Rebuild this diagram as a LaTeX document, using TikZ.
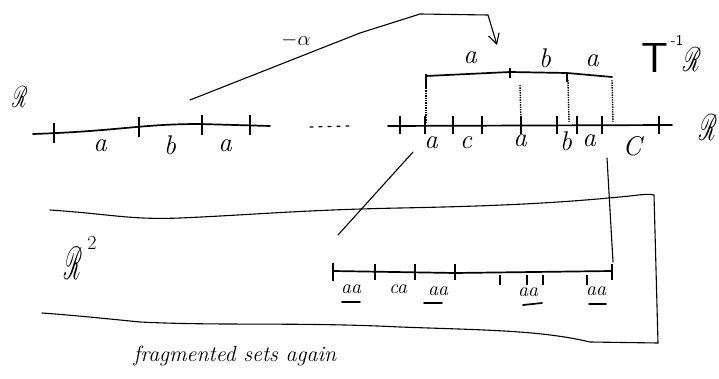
\documentclass[tikz,border=0pt]{standalone}
\usepackage{graphicx}
\usepackage{mathrsfs}
\usetikzlibrary{arrows.meta}
\newcommand{\bigR}[2]{\scalebox{#1}[#2]{$\mathscr{R}$}}
\begin{document}
\begin{tikzpicture}[x=1pt,y=-1pt,
  ln/.style={line width=1.7pt,line cap=round},
  thin/.style={line width=1.1pt,line cap=round},
  tk/.style={line width=1.6pt},
  dt/.style={line width=1.4pt,densely dotted},
  lab/.style={font=\fontsize{27}{27}\selectfont\itshape,inner sep=0pt},
  slab/.style={font=\fontsize{20}{20}\selectfont\itshape,inner sep=0pt},
  rr/.style={inner sep=0pt}]
\useasboundingbox (0,0) rectangle (719,379);
% left R line
\node[rr] (R1) at (20,97) {\bigR{1.7}{3.0}};
\coordinate (L1) at (33,134);
\coordinate (L2) at (270,126);
\draw[ln] (L1) .. controls (120,131) and (140,124) .. (200,124) -- (L2);
\foreach \x/\y in {54/133,139/127,202/125,250/125}
  \draw[tk] (\x,\y-10) -- (\x,\y+10);
\node[lab] (la1) at (100,146) {a};
\node[lab] (lb1) at (170,145) {b};
\node[lab] (la2) at (225,146) {a};
\draw[thin,line width=1.3pt,dash pattern=on 3pt off 6pt] (310,127) -- (350,126);
% shift arrow
\node[font=\fontsize{22}{22}\selectfont,inner sep=0pt] (alpha) at (296,40) {$-\alpha$};
\coordinate (S1) at (190,100);
\coordinate (S2) at (497,45);
\draw[thin,-{Straight Barb[length=10pt,width=11pt]}] (S1) -- (360,33) -- (420,14) -- (488,15) -- (S2);
% upper bracket
\coordinate (U1) at (426,76);
\coordinate (U2) at (612,77);
\draw[ln] (U1) -- (510,72) -- (567,73) -- (U2);
\draw[tk] (426,74) -- (426,88);
\draw[tk] (510,68) -- (510,78);
\draw[tk] (567,72) -- (567,82);
\node[lab] (ua1) at (470,58) {a};
\node[lab] (ub) at (545,58) {b};
\node[lab] (ua2) at (592,61) {a};
\node[inner sep=0pt,font=\fontsize{42}{42}\selectfont\sffamily] (T) at (655,58) {T};
\node[inner sep=0pt,font=\fontsize{15}{15}\selectfont\sffamily] (m1) at (677,40) {-1};
\node[rr] (R4) at (692,60) {\bigR{2.0}{3.4}};
% dotted verticals
\draw[dt] (426,88) -- (426,122);
\draw[dt] (520,85) -- (521,122);
\draw[dt] (568,80) -- (569,122);
\draw[dt] (612,80) -- (613,122);
% main right line
\coordinate (M1) at (388,126);
\coordinate (M2) at (672,125);
\draw[ln] (M1) -- (M2);
\foreach \x in {400,425,453,482,521,557,577,602,659}
  \draw[tk] (\x,116) -- (\x,134);
\node[lab] (ma1) at (431,143) {a};
\node[lab] (mc1) at (466,143) {c};
\node[lab] (ma2) at (520,141) {a};
\node[lab] (mb) at (566,141) {b};
\node[lab] (ma3) at (589,141) {a};
\node[lab] (mc2) at (632,146) {C};
\node[rr] (R2) at (708,128) {\bigR{2.0}{3.7}};
% connecting lines
\coordinate (C1) at (413,152);
\coordinate (C2) at (338,235);
\draw[thin] (C1) -- (C2);
\coordinate (V1) at (607,158);
\coordinate (V2) at (613,262);
\draw[thin] (V1) -- (V2);
% R^2 strip
\draw[thin] (50,210) .. controls (110,214) and (130,220) .. (180,218)
  .. controls (250,215) and (300,210) .. (400,208)
  .. controls (500,206) and (560,203) .. (630,196)
  .. controls (645,194) and (650,194) .. (654,195)
  -- (658,343) -- (590,342)
  .. controls (540,330) and (480,330) .. (400,327)
  .. controls (300,322) and (220,326) .. (140,322)
  .. controls (100,318) and (70,315) .. (42,313);
\node[rr] (R3) at (73,263) {\bigR{2.0}{4.6}};
\node[inner sep=0pt,font=\fontsize{20}{20}\selectfont] (two) at (92,243) {2};
% bottom line
\coordinate (B1) at (333,271);
\coordinate (B2) at (612,271);
\draw[ln] (B1) -- (455,273) -- (B2);
\draw[tk] (333,263) -- (333,281);
\foreach \x in {375,415,455,612}
  \draw[tk] (\x,264) -- (\x,280);
\foreach \x in {500,527,543,587}
  \draw[tk] (\x,275) -- (\x,285);
\node[slab] (ba1) at (351,289) {aa};
\node[slab] (bc) at (398,289) {ca};
\node[slab] (ba2) at (438,291) {aa};
\node[slab] (ba3) at (528,292) {aa};
\node[slab] (ba4) at (596,291) {aa};
\draw[ln] (342,302) -- (360,302);
\draw[ln] (424,303) -- (442,303);
\draw[ln] (523,305) -- (542,303);
\draw[ln] (589,304) -- (606,304);
\node[font=\fontsize{22}{22}\selectfont\itshape,inner sep=0pt] (frag) at (235,356) {fragmented sets again};
\end{tikzpicture}
\end{document}
